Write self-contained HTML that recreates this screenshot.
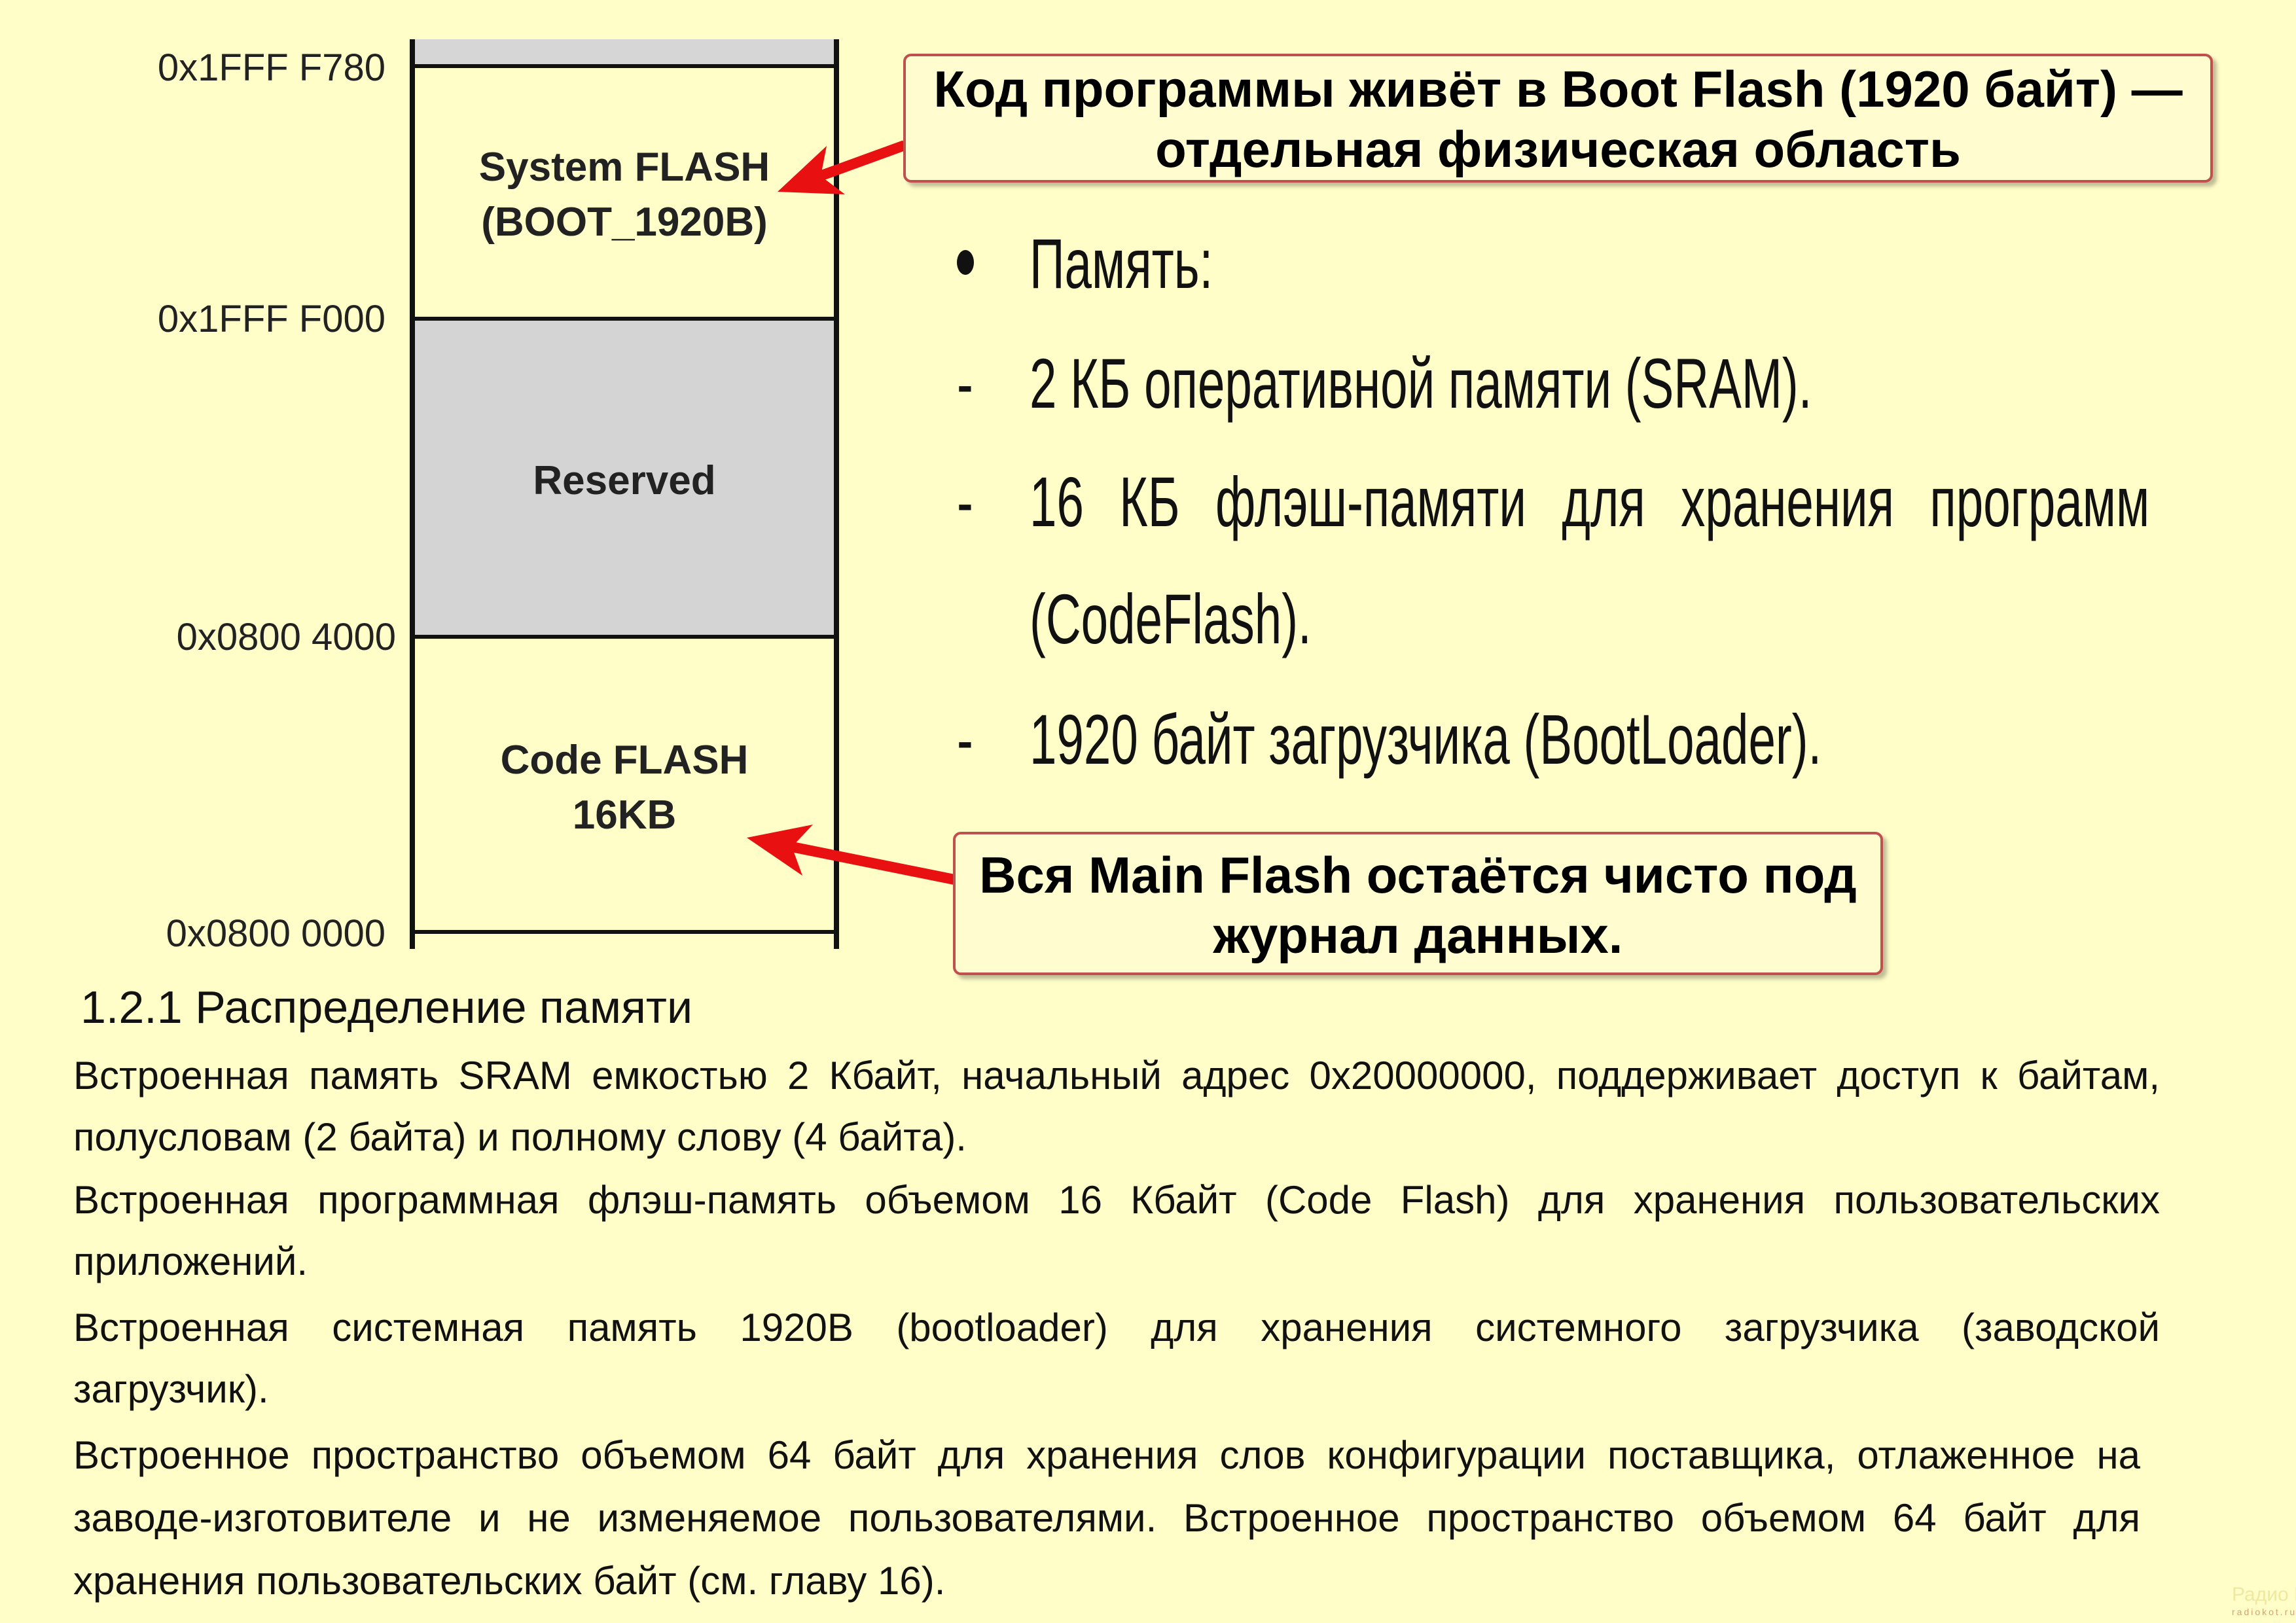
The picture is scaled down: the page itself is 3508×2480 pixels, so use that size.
<!DOCTYPE html>
<html><head><meta charset="utf-8"><style>
html,body{margin:0;padding:0}
body{width:3508px;height:2480px;background:#fffdc8;position:relative;overflow:hidden;font-family:"Liberation Sans","Noto Sans CJK SC",sans-serif;color:#111}
.a{position:absolute;white-space:nowrap}
.addr{position:absolute;width:420px;left:169px;text-align:right;font-size:58px;line-height:60px;color:#222;white-space:nowrap}
.blk{position:absolute;left:630px;width:648px;text-align:center;font-weight:bold;font-size:62px;line-height:84px;color:#222}
.call{position:absolute;border:4px solid #c0504d;border-radius:12px;background:#fffdd0;box-shadow:6px 6px 6px rgba(0,0,0,0.25);text-align:center;font-weight:bold;font-size:78px;line-height:92px;color:#000;white-space:nowrap}
.bl{position:absolute;font-size:108px;line-height:120px;transform:scaleX(0.69);transform-origin:0 0;white-space:nowrap;color:#111}
.p{position:absolute;left:112px;font-size:60px;line-height:70px;white-space:nowrap;color:#111}
.j{text-align:justify;text-align-last:justify;white-space:normal}
</style></head><body>
<div style="position:absolute;left:630px;top:60px;width:648px;height:40px;background:#d6d6d6"></div>
<div style="position:absolute;left:630px;top:487px;width:648px;height:486px;background:#d4d4d4"></div>
<div style="position:absolute;left:626px;top:60px;width:8px;height:1390px;background:#111"></div>
<div style="position:absolute;left:1274px;top:60px;width:8px;height:1390px;background:#111"></div>
<div style="position:absolute;left:626px;top:98px;width:656px;height:6px;background:#111"></div>
<div style="position:absolute;left:626px;top:484px;width:656px;height:6px;background:#111"></div>
<div style="position:absolute;left:626px;top:970px;width:656px;height:6px;background:#111"></div>
<div style="position:absolute;left:626px;top:1421px;width:656px;height:6px;background:#111"></div>
<div class="addr" style="top:74px">0x1FFF F780</div>
<div class="addr" style="top:458px">0x1FFF F000</div>
<div class="addr" style="top:944px;left:185px">0x0800 4000</div>
<div class="addr" style="top:1397px">0x0800 0000</div>
<div class="blk" style="top:214px">System FLASH<br>(BOOT_1920B)</div>
<div class="blk" style="top:693px">Reserved</div>
<div class="blk" style="top:1120px">Code FLASH<br>16KB</div>
<svg class="a" style="left:0;top:0" width="3508" height="2480">
<g fill="#e81010" stroke="none">
<line x1="1382" y1="222" x2="1250" y2="270" stroke="#e81010" stroke-width="16"/>
<polygon points="1188,293 1263,223 1254,269 1291,297"/>
<line x1="1458" y1="1344" x2="1205" y2="1293" stroke="#e81010" stroke-width="16"/>
<polygon points="1141,1280 1242,1260 1210,1294 1226,1338"/>
</g></svg>
<div class="call" style="left:1380px;top:82px;width:2001px;height:197px;padding-top:4px;box-sizing:border-box">Код программы живёт в Boot Flash (1920 байт) —<br>отдельная физическая область</div>
<div class="call" style="left:1456px;top:1271px;width:1421px;height:219px;padding-top:16px;box-sizing:border-box">Вся Main Flash остаётся чисто под<br>журнал данных.</div>
<div class="a" style="left:1462px;top:382px;width:26px;height:38px;border-radius:50%;background:#111"></div>
<div class="bl" style="left:1573px;top:343px">Память:</div>
<div class="bl" style="left:1462px;top:526px">-</div>
<div class="bl" style="left:1573px;top:526px">2 КБ оперативной памяти (SRAM).</div>
<div class="bl" style="left:1462px;top:707px">-</div>
<div class="bl" style="left:1573px;top:707px;width:2480px;text-align:justify;text-align-last:justify;white-space:normal">16 КБ флэш-памяти для хранения программ</div>
<div class="bl" style="left:1573px;top:886px">(CodeFlash).</div>
<div class="bl" style="left:1462px;top:1070px">-</div>
<div class="bl" style="left:1573px;top:1070px">1920 байт загрузчика (BootLoader).</div>
<div class="a" style="left:123px;top:1502px;font-size:70px;line-height:74px;color:#111">1.2.1 Распределение памяти</div>
<div class="p j" style="top:1609px;width:3188px">Встроенная память SRAM емкостью 2 Кбайт, начальный адрес 0x20000000, поддерживает доступ к байтам,</div>
<div class="p" style="top:1703px">полусловам (2 байта) и полному слову (4 байта).</div>
<div class="p j" style="top:1799px;width:3188px">Встроенная программная флэш-память объемом 16 Кбайт (Code Flash) для хранения пользовательских</div>
<div class="p" style="top:1893px">приложений.</div>
<div class="p j" style="top:1994px;width:3188px">Встроенная системная память 1920B (bootloader) для хранения системного загрузчика (заводской</div>
<div class="p" style="top:2088px">загрузчик).</div>
<div class="p j" style="top:2189px;width:3158px">Встроенное пространство объемом 64 байт для хранения слов конфигурации поставщика, отлаженное на</div>
<div class="p j" style="top:2285px;width:3158px">заводе-изготовителе и не изменяемое пользователями. Встроенное пространство объемом 64 байт для</div>
<div class="p" style="top:2381px">хранения пользовательских байт (см. главу 16).</div>
<div class="a" style="left:3410px;top:2420px;font-size:30px;color:#f0e8a0">Радио КОТ</div>
<div class="a" style="left:3410px;top:2455px;font-size:14px;color:#d8a070;letter-spacing:3px">radiokot.ru</div>
</body></html>
